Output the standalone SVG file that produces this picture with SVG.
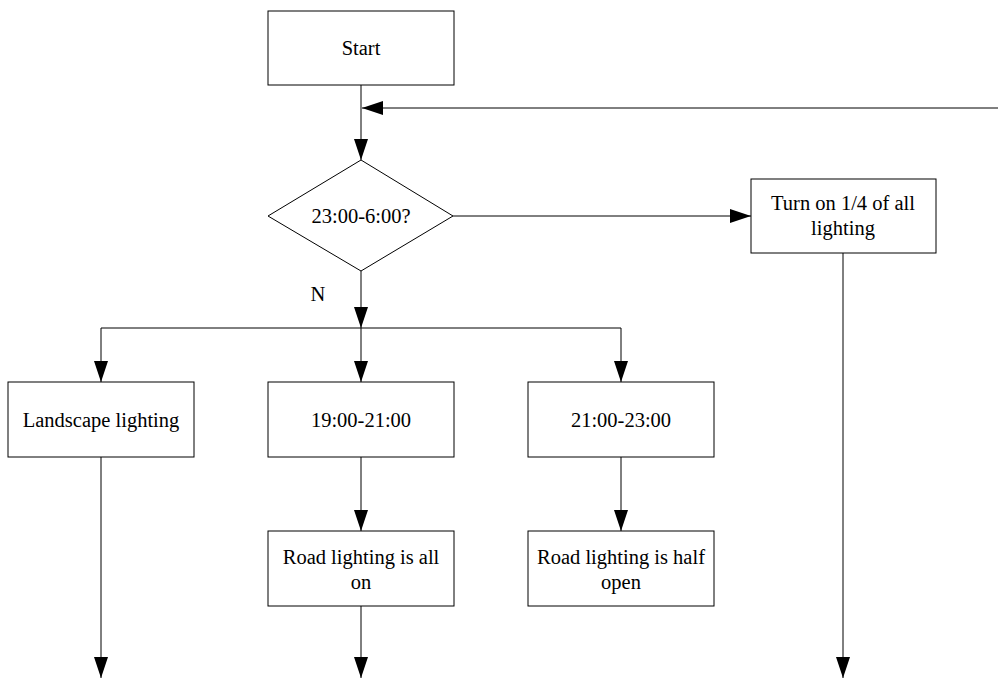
<svg xmlns="http://www.w3.org/2000/svg" width="998" height="678" viewBox="0 0 998 678">
<style>
.box{fill:#fff;stroke:#000;stroke-width:1}
.ln{fill:none;stroke:#000;stroke-width:1}
.t{font-family:'Liberation Serif','Tinos','Times New Roman','Times','Noto Serif','DejaVu Serif',serif;font-size:20.5px;fill:#000;text-anchor:middle}
</style>
<defs>
<marker id="ah" markerUnits="userSpaceOnUse" markerWidth="22" markerHeight="14" refX="21" refY="7" orient="auto">
<path d="M0,0 L21,7 L0,14 Z" fill="#000"/>
</marker>
</defs>
<rect width="998" height="678" fill="#fff"/>
<g id="connectors">
<path class="ln" d="M361,85 V160" marker-end="url(#ah)"/>
<path class="ln" d="M998,108 H362" marker-end="url(#ah)"/>
<path class="ln" d="M453,216 H751" marker-end="url(#ah)"/>
<path class="ln" d="M361,271 V328" marker-end="url(#ah)"/>
<path class="ln" d="M101,328 H621"/>
<path class="ln" d="M101,328 V382" marker-end="url(#ah)"/>
<path class="ln" d="M361,328 V382" marker-end="url(#ah)"/>
<path class="ln" d="M621,328 V382" marker-end="url(#ah)"/>
<path class="ln" d="M361,457 V531" marker-end="url(#ah)"/>
<path class="ln" d="M621,457 V531" marker-end="url(#ah)"/>
<path class="ln" d="M101,457 V678" marker-end="url(#ah)"/>
<path class="ln" d="M361,606 V678" marker-end="url(#ah)"/>
<path class="ln" d="M843,253 V678" marker-end="url(#ah)"/>
<text class="t" x="318" y="301">N</text>
</g>
<g id="start"><rect class="box" x="268" y="11" width="186" height="74"/><text class="t" x="361" y="55">Start</text></g>
<g id="decision"><polygon class="box" points="361,160 453,216 361,271 268,216"/><text class="t" x="361" y="223">23:00-6:00?</text></g>
<g id="quarter"><rect class="box" x="751" y="179" width="185" height="74"/><text class="t" x="843" y="210">Turn on 1/4 of all</text><text class="t" x="843" y="235">lighting</text></g>
<g id="landscape"><rect class="box" x="8" y="382" width="186" height="75"/><text class="t" x="101" y="427">Landscape lighting</text></g>
<g id="t1921"><rect class="box" x="268" y="382" width="186" height="75"/><text class="t" x="361" y="427">19:00-21:00</text></g>
<g id="t2123"><rect class="box" x="528" y="382" width="186" height="75"/><text class="t" x="621" y="427">21:00-23:00</text></g>
<g id="allon"><rect class="box" x="268" y="531" width="186" height="75"/><text class="t" x="361" y="564">Road lighting is all</text><text class="t" x="361" y="589">on</text></g>
<g id="halfopen"><rect class="box" x="528" y="531" width="186" height="75"/><text class="t" x="621" y="564">Road lighting is half</text><text class="t" x="621" y="589">open</text></g>
</svg>
